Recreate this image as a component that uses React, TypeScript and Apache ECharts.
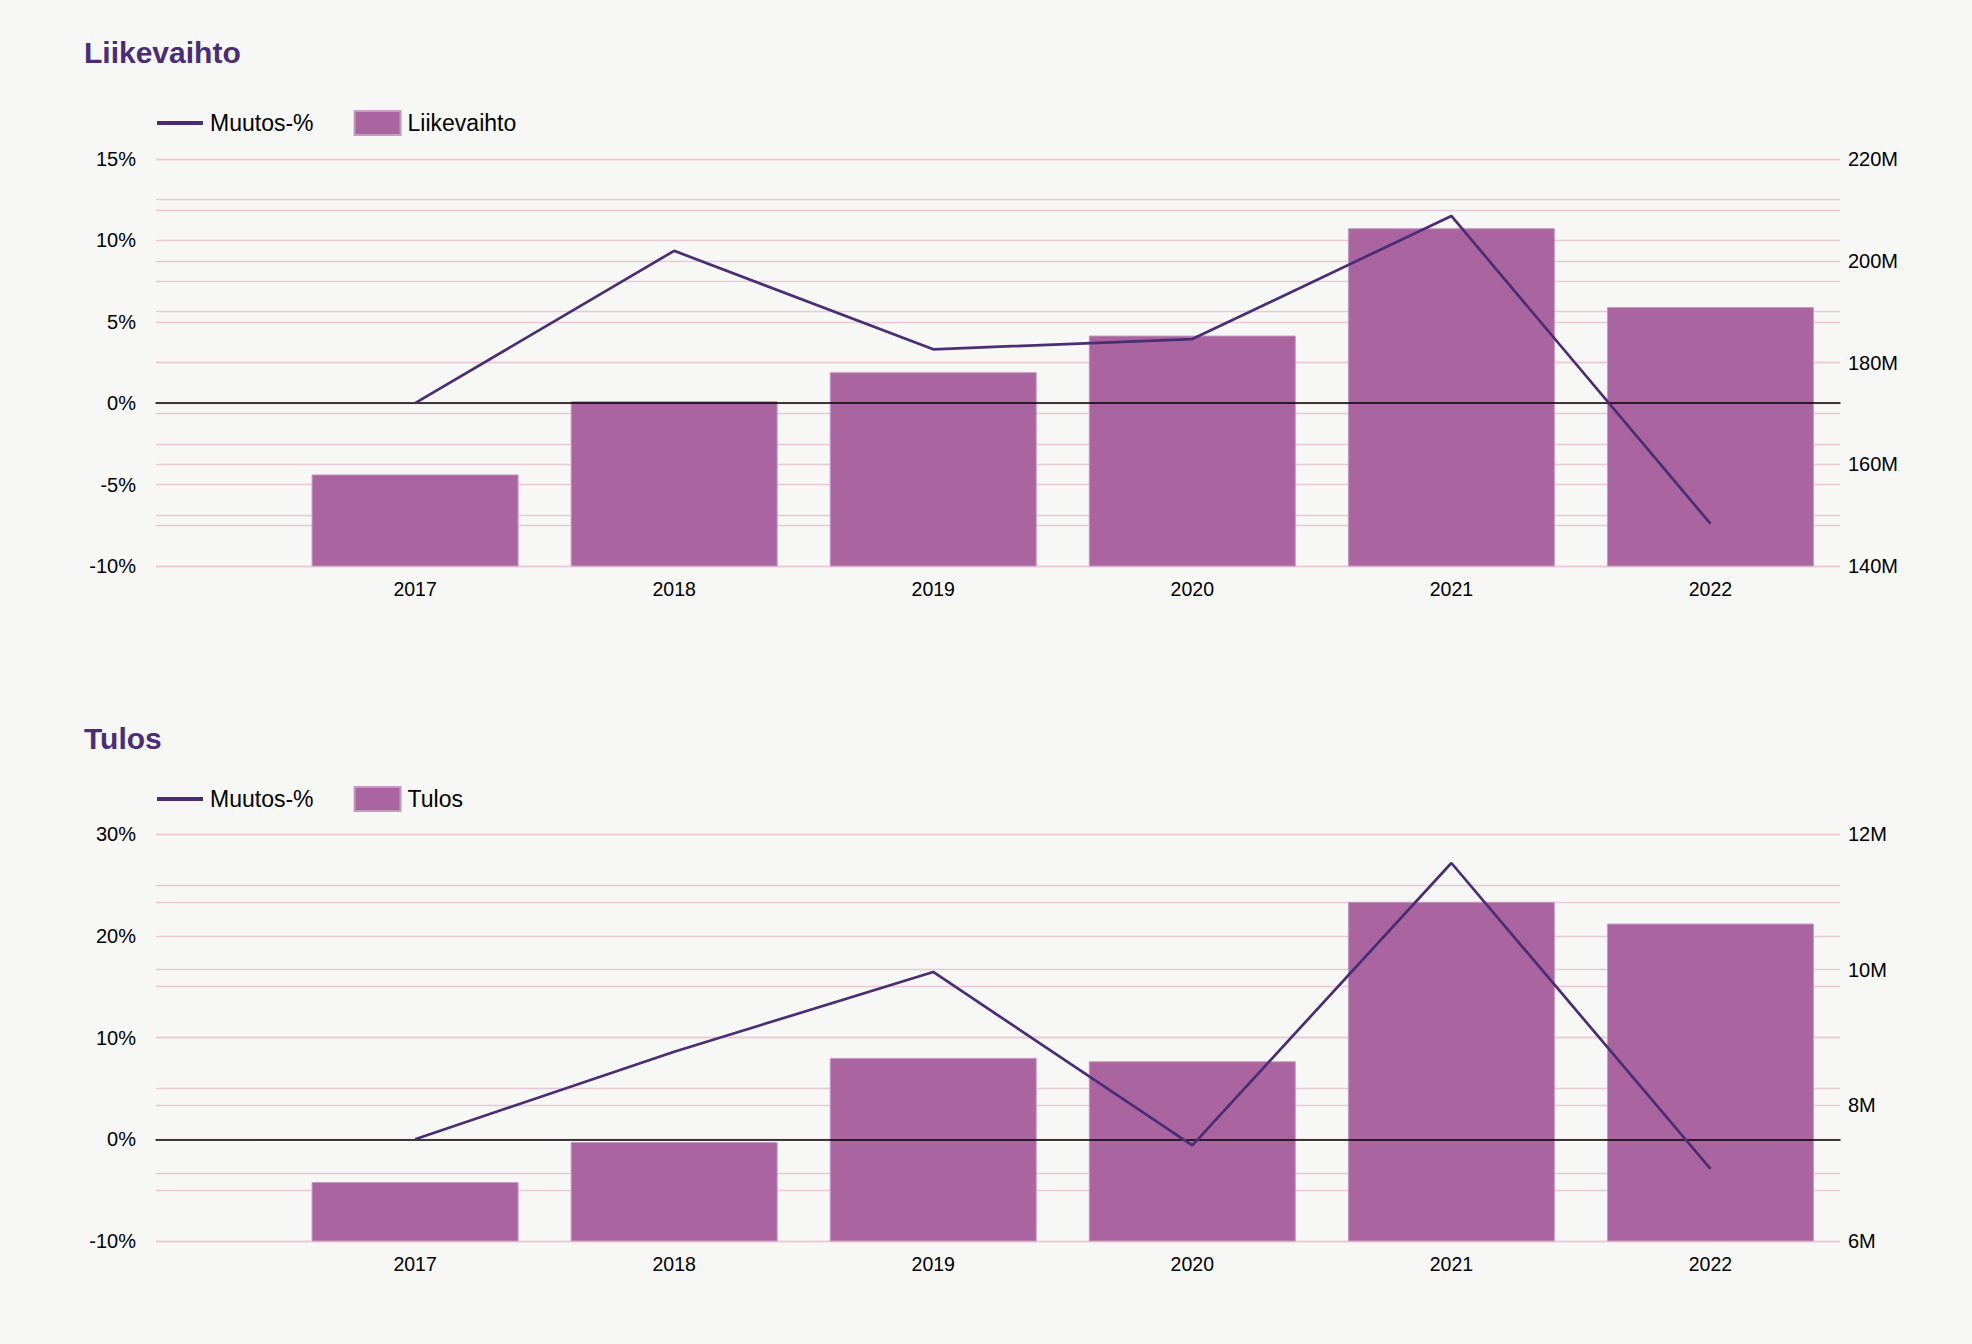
import React, { useEffect, useRef } from "react";
import * as echarts from "echarts";

// ---- data ----
const years = [2017, 2018, 2019, 2020, 2021, 2022];

const revenueM = [158.0, 172.4, 178.1, 185.3, 206.4, 190.9];
const revenueChangePct = [0, 9.36, 3.31, 3.94, 11.5, -7.4];

const profitM = [6.87, 7.46, 8.7, 8.65, 11.0, 10.68];
const profitChangePct = [0, 8.6, 16.44, -0.6, 27.15, -2.9];

// axis ranges [min, max, interval]
const revenuePctAxis = [-10, 15, 5];
const revenueValAxis = [140, 220, 20];
const profitPctAxis = [-10, 30, 10];
const profitValAxis = [6, 12, 2];
const yearAxis = [2016, 2022.5, 1];

const lineName = "Muutos-%";

// ---- styles ----
const BG = "#f7f7f5";
const FONT = "'Liberation Sans', Arial, Helvetica, sans-serif";
const TITLE_COLOR = "#4b2d75";
const LINE_COLOR = "#4b2d75";
const BAR_COLOR = "#aa65a0";
const BAR_BORDER = "#c69bc0";
const GRID_COLOR = "#ebc8d5";

type Cfg = {
  title: string;
  barName: string;
  bars: number[];
  pct: number[];
  pctAxis: number[];
  valAxis: number[];
  titleTop: number;
  legendTop: number;
  gridTop: number;
};

function buildOption(c: Cfg) {
  const splitLine = { show: true, lineStyle: { color: GRID_COLOR, width: 1.3 } };
  return {
    animation: false,
    backgroundColor: BG,
    textStyle: { fontFamily: FONT },
    title: {
      text: c.title,
      left: 84,
      top: c.titleTop,
      padding: 0,
      textStyle: { color: TITLE_COLOR, fontSize: 30, fontWeight: "bold", fontFamily: FONT },
    },
    legend: {
      left: 155,
      top: c.legendTop,
      padding: 0,
      itemWidth: 46,
      itemHeight: 24,
      itemGap: 40,
      textStyle: { fontSize: 23, color: "#000", fontFamily: FONT, padding: [0, 0, 0, 2] },
      data: [
        {
          name: lineName,
          lineStyle: { width: 4, color: LINE_COLOR },
          itemStyle: { opacity: 0 },
        },
        { name: c.barName, icon: "rect" },
      ],
    },
    grid: { left: 156, right: 132, top: c.gridTop, height: 407, containLabel: false },
    xAxis: {
      type: "value",
      min: yearAxis[0],
      max: yearAxis[1],
      interval: yearAxis[2],
      z: 5,
      splitLine: { show: false },
      axisTick: { show: false },
      axisLine: { show: true, onZero: true, lineStyle: { color: "#000", width: 1.5 } },
      axisLabel: {
        margin: 13,
        fontSize: 19.5,
        color: "#000",
        fontFamily: FONT,
        formatter: (v: number) =>
          Number.isInteger(v) && years.indexOf(v) >= 0 ? String(v) : "",
      },
    },
    yAxis: [
      {
        type: "value",
        position: "left",
        min: c.pctAxis[0],
        max: c.pctAxis[1],
        interval: c.pctAxis[2],
        axisLine: { show: false },
        axisTick: { show: false },
        axisLabel: { margin: 20, fontSize: 20, color: "#000", fontFamily: FONT, formatter: (v: number) => `${v}%` },
        splitLine,
        minorTick: { show: false, splitNumber: 2 },
        minorSplitLine: splitLine,
      },
      {
        type: "value",
        position: "right",
        min: c.valAxis[0],
        max: c.valAxis[1],
        interval: c.valAxis[2],
        axisLine: { show: false },
        axisTick: { show: false },
        axisLabel: { margin: 8, fontSize: 20, color: "#000", fontFamily: FONT, formatter: (v: number) => `${v}M` },
        splitLine,
        minorTick: { show: false, splitNumber: 2 },
        minorSplitLine: splitLine,
      },
    ],
    series: [
      {
        name: lineName,
        type: "line",
        yAxisIndex: 0,
        z: 6,
        symbol: "none",
        data: years.map((y, i) => [y, c.pct[i]]),
        lineStyle: { color: LINE_COLOR, width: 2.7 },
        itemStyle: { color: LINE_COLOR },
      },
      {
        name: c.barName,
        type: "bar",
        yAxisIndex: 1,
        z: 2,
        barWidth: 207,
        data: years.map((y, i) => [y, c.bars[i]]),
        itemStyle: { color: BAR_COLOR, borderColor: BAR_BORDER, borderWidth: 1 },
      },
    ],
  };
}

function Chart({ cfg }: { cfg: Cfg }) {
  const ref = useRef<HTMLDivElement>(null);
  useEffect(() => {
    if (!ref.current) return;
    const chart = echarts.init(ref.current, undefined, { renderer: "svg" });
    chart.setOption(buildOption(cfg) as any);
    return () => chart.dispose();
  }, [cfg]);
  return <div ref={ref} style={{ width: 1972, height: 672 }} />;
}

const cfg1: Cfg = {
  title: "Liikevaihto",
  barName: "Liikevaihto",
  bars: revenueM,
  pct: revenueChangePct,
  pctAxis: revenuePctAxis,
  valAxis: revenueValAxis,
  titleTop: 37,
  legendTop: 110,
  gridTop: 159,
};

const cfg2: Cfg = {
  title: "Tulos",
  barName: "Tulos",
  bars: profitM,
  pct: profitChangePct,
  pctAxis: profitPctAxis,
  valAxis: profitValAxis,
  titleTop: 51,
  legendTop: 114,
  gridTop: 162,
};

export default function App() {
  useEffect(() => {
    document.body.style.margin = "0";
    document.body.style.background = BG;
  }, []);
  return (
    <div style={{ width: 1972, height: 1344, background: BG }}>
      <Chart cfg={cfg1} />
      <Chart cfg={cfg2} />
    </div>
  );
}
